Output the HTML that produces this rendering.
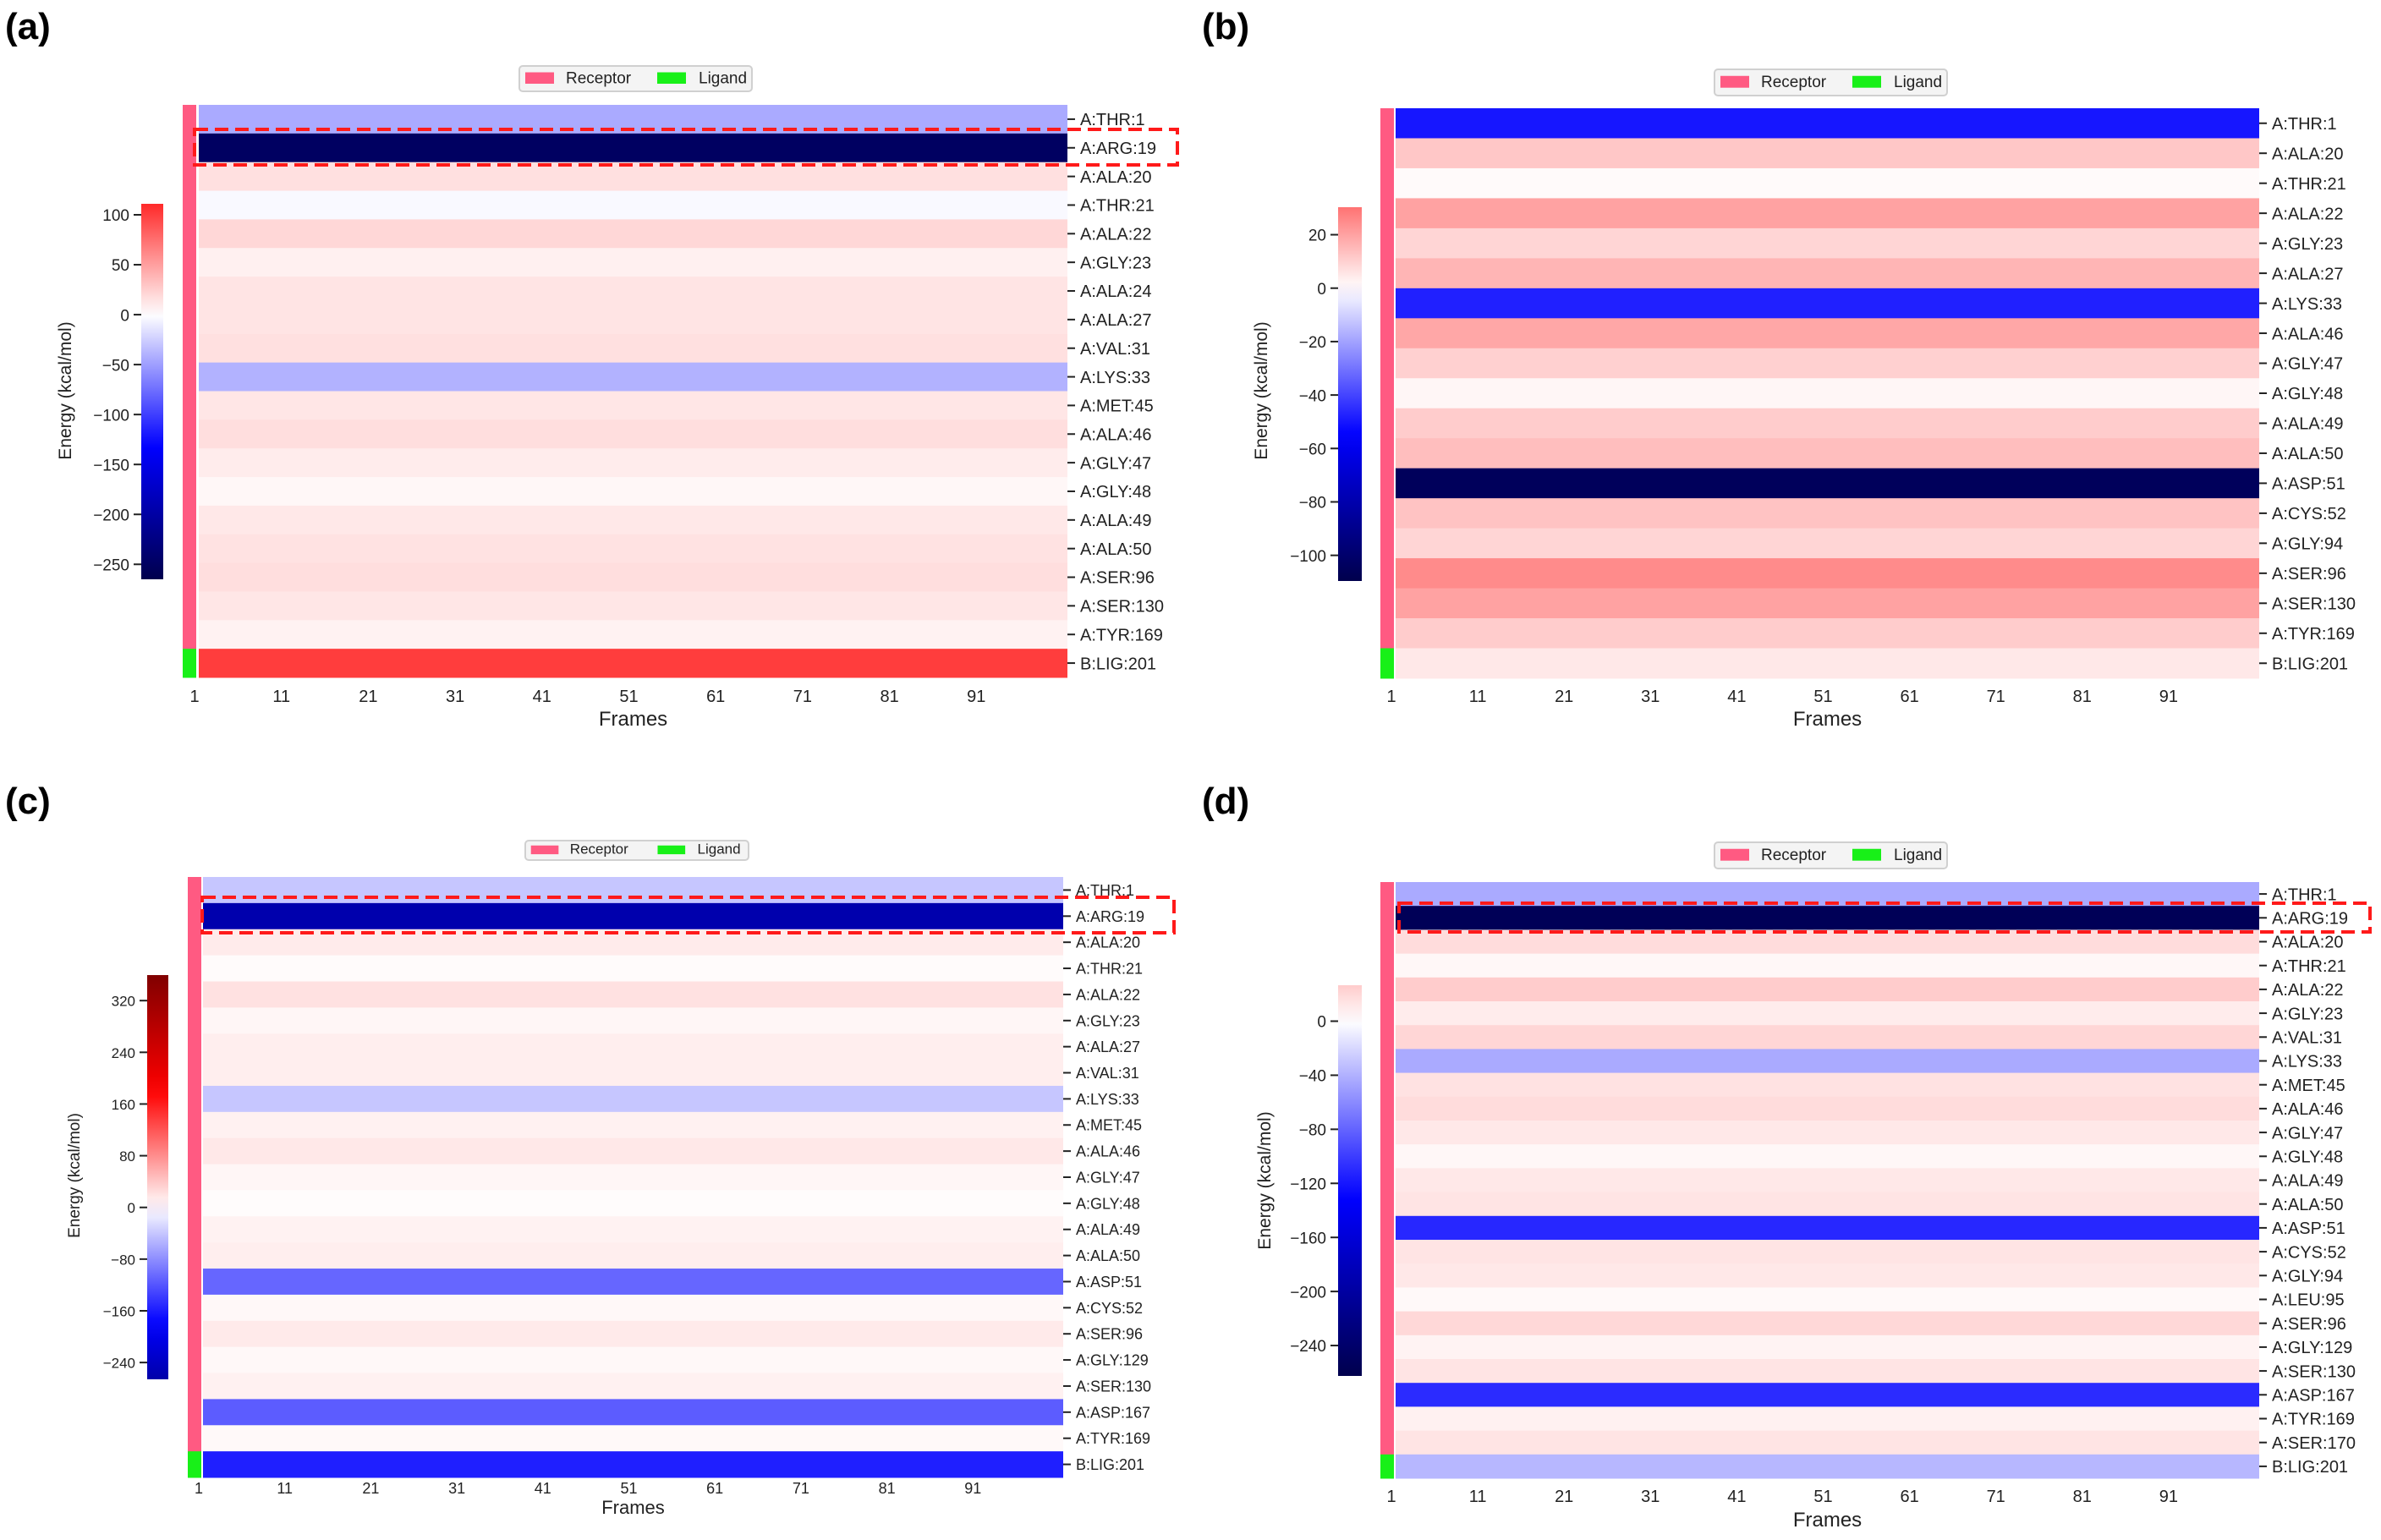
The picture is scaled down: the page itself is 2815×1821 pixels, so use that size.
<!DOCTYPE html>
<html><head><meta charset="utf-8"><style>
html,body{margin:0;padding:0;background:#fff;}
svg{display:block;font-family:"Liberation Sans","DejaVu Sans",sans-serif;}
</style></head><body>
<svg id="fig" width="2815" height="1821" viewBox="0 0 2815 1821" xmlns="http://www.w3.org/2000/svg">
<rect width="2815" height="1821" fill="#fff"/>
<defs id="defs"></defs>
</svg>
<script>
// ---- data ----
const aLabels = ["A:THR:1","A:ARG:19","A:ALA:20","A:THR:21","A:ALA:22","A:GLY:23","A:ALA:24","A:ALA:27","A:VAL:31","A:LYS:33","A:MET:45","A:ALA:46","A:GLY:47","A:GLY:48","A:ALA:49","A:ALA:50","A:SER:96","A:SER:130","A:TYR:169","B:LIG:201"];
const aValues = [-44,-250,16,-3,21,8,14,14,16,-40,13,17,10,4,12,15,17,13,7,101];
const aTicks = [100,50,0,-50,-100,-150,-200,-250];

const bLabels = ["A:THR:1","A:ALA:20","A:THR:21","A:ALA:22","A:GLY:23","A:ALA:27","A:LYS:33","A:ALA:46","A:GLY:47","A:GLY:48","A:ALA:49","A:ALA:50","A:ASP:51","A:CYS:52","A:GLY:94","A:SER:96","A:SER:130","A:TYR:169","B:LIG:201"];
const bValues = [-50,12,1,20,9,16,-48,19,10,2,11,14,-105,13,9,25,20,11,5];
const bTicks = [20,0,-20,-40,-60,-80,-100];

const cLabels = ["A:THR:1","A:ARG:19","A:ALA:20","A:THR:21","A:ALA:22","A:GLY:23","A:ALA:27","A:VAL:31","A:LYS:33","A:MET:45","A:ALA:46","A:GLY:47","A:GLY:48","A:ALA:49","A:ALA:50","A:ASP:51","A:CYS:52","A:SER:96","A:GLY:129","A:SER:130","A:ASP:167","A:TYR:169","B:LIG:201"];
const cValues = [-40,-262,14,3,21,6,12,12,-40,10,16,6,2,9,12,-108,5,15,5,10,-115,4,-158];
const cTicks = [320,240,160,80,0,-80,-160,-240];

const dLabels = ["A:THR:1","A:ARG:19","A:ALA:20","A:THR:21","A:ALA:22","A:GLY:23","A:VAL:31","A:LYS:33","A:MET:45","A:ALA:46","A:GLY:47","A:GLY:48","A:ALA:49","A:ALA:50","A:ASP:51","A:CYS:52","A:GLY:94","A:LEU:95","A:SER:96","A:GLY:129","A:SER:130","A:ASP:167","A:TYR:169","A:SER:170","B:LIG:201"];
const dValues = [-44,-255,18,4,26,10,21,-44,15,18,12,4,12,14,-111,14,12,3,20,6,14,-109,7,14,-37];
const dTicks = [0,-40,-80,-120,-160,-200,-240];

const frameTicks = [1,11,21,31,41,51,61,71,81,91];
const nFrames = 100;
</script>
<script>
const NS = "http://www.w3.org/2000/svg";
const svg = document.getElementById('fig');
const defs = document.getElementById('defs');
function mk(tag, attrs, parent){
  const e = document.createElementNS(NS, tag);
  for (const k in attrs) e.setAttribute(k, attrs[k]);
  (parent||svg).appendChild(e);
  return e;
}
function seismic(t){
  t = Math.max(0, Math.min(1, t));
  let r,g,b;
  if (t < 0.25){ const s=t/0.25; r=0; g=0; b=0.3+0.7*s; }
  else if (t < 0.5){ const s=(t-0.25)/0.25; r=s; g=s; b=1; }
  else if (t < 0.75){ const s=(t-0.5)/0.25; r=1; g=1-s; b=1-s; }
  else { const s=(t-0.75)/0.25; r=1-0.5*s; g=0; b=0; }
  return `rgb(${Math.round(r*255)},${Math.round(g*255)},${Math.round(b*255)})`;
}
function drawPanel(p, labels, values, ticks){
  const g = mk('g', {});
  
  
  const M = Math.max(Math.abs(p.vmin), Math.abs(p.vmax));
  const color = v => seismic(0.5 + v / (2 * M));
  const lt = mk('text', {x:p.lx, y:p.ly, 'font-size':44, 'font-weight':'bold', fill:'#000'}, g);
  lt.textContent = '(' + p.id + ')';
  
  
  const n = labels.length;
  const rh = (p.y1 - p.y0) / n;
  const cw = (p.x1 - p.x0) / nFrames;
  const yRow = i => p.y0 + i * rh;
  const xFrame = f => p.x0 + (f - 1) * cw;
  for (let i = 0; i < n; i++){
    const r = mk('rect', {x:p.x0, y:yRow(i), width:p.x1-p.x0, height:rh+0.5, fill:color(values[i])}, g);
    
    
    const isLig = labels[i].startsWith('B:');
    const s = mk('rect', {x:p.sx, y:yRow(i), width:p.sw, height:rh+0.5, fill: isLig ? '#18f018' : '#ff5a82'}, g);
    
    
    const cy = yRow(i) + rh/2;
    mk('line', {x1:p.x1, x2:p.x1+9, y1:cy, y2:cy, stroke:'#222', 'stroke-width':2}, g);
    const t = mk('text', {x:p.x1+15, y:cy+p.fs*0.36, 'font-size':p.fs, fill:'#222'}, g);
    t.textContent = labels[i];
    
    
  }
  frameTicks.forEach(f => {
    const t = mk('text', {x:xFrame(f)-5, y:p.fy, 'font-size':p.fs, fill:'#222', 'text-anchor':'middle'}, g);
    t.textContent = f;
    
    
  });
  const xt = mk('text', {x:(p.x0+p.x1)/2, y:p.fty, 'font-size':p.fs+4, fill:'#222', 'text-anchor':'middle'}, g);
  xt.textContent = 'Frames';
  
  
  const gid = 'grad' + p.id;
  const lg = mk('linearGradient', {id:gid, x1:0, y1:1, x2:0, y2:0}, defs);
  for (let k = 0; k <= 20; k++){
    const v = p.vmin + (p.vmax - p.vmin) * k / 20;
    mk('stop', {offset:(k/20), 'stop-color':color(v)}, lg);
  }
  const cb = mk('rect', {x:p.cx0, y:p.cy0, width:p.cx1-p.cx0, height:p.cy1-p.cy0, fill:`url(#${gid})`}, g);
  
  
  const cbY = v => p.cy1 - (v - p.vmin) / (p.vmax - p.vmin) * (p.cy1 - p.cy0);
  ticks.forEach(v => {
    const y = cbY(v);
    mk('line', {x1:p.cx0-9, x2:p.cx0, y1:y, y2:y, stroke:'#222', 'stroke-width':2}, g);
    const t = mk('text', {x:p.cx0-14, y:y+p.fs*0.36, 'font-size':p.fs-1, fill:'#222', 'text-anchor':'end'}, g);
    t.textContent = v < 0 ? '\u2212' + Math.abs(v) : v;
    
    
  });
  const el = mk('text', {x:0, y:0, 'font-size':p.fs+1, fill:'#222', 'text-anchor':'middle', transform:`translate(${p.ex},${p.ey}) rotate(-90)`}, g);
  el.textContent = 'Energy (kcal/mol)';
  
  
  const lgG = mk('g', {}, g);
  
  
  const lw = p.gx1 - p.gx0, lh = p.gy1 - p.gy0;
  mk('rect', {x:p.gx0, y:p.gy0, width:lw, height:lh, rx:4, fill:'#f4f4f4', stroke:'#d0d0d0', 'stroke-width':2}, lgG);
  const u = lw / 275;
  mk('rect', {x:p.gx0+7*u, y:p.gy0+lh*0.25, width:34*u, height:lh*0.45, fill:'#ff5a82'}, lgG);
  const t1 = mk('text', {x:p.gx0+55*u, y:p.gy0+lh*0.68, 'font-size':p.fs-1, fill:'#222'}, lgG);
  t1.textContent = 'Receptor';
  
  
  mk('rect', {x:p.gx0+163*u, y:p.gy0+lh*0.25, width:34*u, height:lh*0.45, fill:'#18f018'}, lgG);
  const t2 = mk('text', {x:p.gx0+212*u, y:p.gy0+lh*0.68, 'font-size':p.fs-1, fill:'#222'}, lgG);
  t2.textContent = 'Ligand';
  
  
  if (p.box){
    const b = mk('rect', {x:p.box[0], y:p.box[1], width:p.box[2]-p.box[0], height:p.box[3]-p.box[1], fill:'none', stroke:'#ff1a1a', 'stroke-width':4, 'stroke-dasharray':'16 8'}, g);
    
    
  }
}
drawPanel({id:'a', lx:6, ly:46, x0:235, x1:1262, y0:124, y1:801, sx:216, sw:16,
  vmin:-265, vmax:111, cx0:167, cx1:193, cy0:241, cy1:685, ex:84, ey:462,
  gx0:614, gx1:889, gy0:78, gy1:108, fy:830, fty:858, fs:20, box:[230,153,1392,195]},
  aLabels, aValues, aTicks);
drawPanel({id:'b', lx:1421, ly:46, x0:1650, x1:2671, y0:128, y1:802, sx:1632, sw:16,
  vmin:-109.6, vmax:30.3, cx0:1582, cx1:1610, cy0:245, cy1:687, ex:1498, ey:462,
  gx0:2027, gx1:2302, gy0:82, gy1:113, fy:830, fty:858, fs:20, box:null},
  bLabels, bValues, bTicks);
drawPanel({id:'c', lx:6, ly:962, x0:240, x1:1257, y0:1037, y1:1747, sx:222, sw:16,
  vmin:-266, vmax:359.5, cx0:174, cx1:199, cy0:1153, cy1:1631, ex:94, ey:1390,
  gx0:621, gx1:885, gy0:994, gy1:1017, fy:1766, fty:1790, fs:18, box:[239,1061,1388,1103]},
  cLabels, cValues, cTicks);
drawPanel({id:'d', lx:1421, ly:962, x0:1650, x1:2671, y0:1043, y1:1748, sx:1632, sw:16,
  vmin:-262.5, vmax:26.6, cx0:1582, cx1:1610, cy0:1165, cy1:1627, ex:1502, ey:1396,
  gx0:2027, gx1:2302, gy0:996, gy1:1027, fy:1776, fty:1805, fs:20, box:[1654,1068,2802,1102]},
  dLabels, dValues, dTicks);
</script>
</body></html>
